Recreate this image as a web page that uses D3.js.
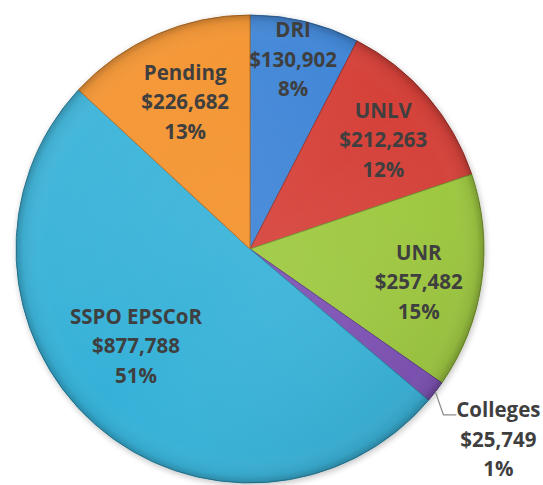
<!DOCTYPE html>
<html>
<head>
<meta charset="utf-8">
<script src="https://cdn.jsdelivr.net/npm/d3@7"></script>
<style>
  body { margin: 0; background: #ffffff; }
  svg { display: block; }
  .lbl { font-family: "Open Sans", "DejaVu Sans", sans-serif; font-weight: 700; font-size: 20.5px; fill: #3f3f3f; }
</style>
</head>
<body>
<svg width="543" height="485"></svg>
<script>
// data, clockwise from 12 o'clock
var names = ["DRI", "UNLV", "UNR", "Colleges", "SSPO EPSCoR", "Pending"];
var amounts = [130902, 212263, 257482, 25749, 877788, 226682];
var colors = ["#3c84d6", "#d53f39", "#9dc83d", "#7b50b4", "#35b1d8", "#f4912b"];

// where each label sits: fraction of radius, angle nudge in degrees
var label_place = {
    "DRI": { r: 0.83, da: -0.8 },
    "UNLV": { r: 0.735, da: 1.5 },
    "UNR": { r: 0.735, da: 3 },
    "SSPO EPSCoR": { r: 0.64, da: 8 },
    "Pending": { r: 0.685, da: -0.3 }
};

var svg = d3.select("svg"),
    cx = 250, cy = 249, radius = 234,
    line_h = 29.5;

var total = d3.sum(amounts);
var fmt_money = d3.format("$,"),
    fmt_pct = d3.format(".0%");

var pie = d3.pie().sort(null).value(function (d) { return d; });
var arcs = pie(amounts);
var arc = d3.arc().innerRadius(0).outerRadius(radius);

var defs = svg.append("defs");

// soft drop shadow under the pie
var flt = defs.append("filter").attr("id", "shadow")
    .attr("x", "-10%").attr("y", "-10%").attr("width", "120%").attr("height", "120%");
flt.append("feGaussianBlur").attr("in", "SourceAlpha").attr("stdDeviation", 3);
flt.append("feOffset").attr("dx", 1).attr("dy", 2).attr("result", "b");
flt.append("feComponentTransfer").append("feFuncA").attr("type", "linear").attr("slope", 0.25);
var fm = flt.append("feMerge");
fm.append("feMergeNode");
fm.append("feMergeNode").attr("in", "SourceGraphic");

// light from top-left
var lg = defs.append("linearGradient").attr("id", "light")
    .attr("x1", "0%").attr("y1", "0%").attr("x2", "100%").attr("y2", "100%");
lg.append("stop").attr("offset", "0%").attr("stop-color", "#fff").attr("stop-opacity", 0.12);
lg.append("stop").attr("offset", "50%").attr("stop-color", "#fff").attr("stop-opacity", 0);
lg.append("stop").attr("offset", "100%").attr("stop-color", "#000").attr("stop-opacity", 0.12);

// rim darkening
var rg = defs.append("radialGradient").attr("id", "rim");
rg.append("stop").attr("offset", "0%").attr("stop-color", "#fff").attr("stop-opacity", 0.08);
rg.append("stop").attr("offset", "88%").attr("stop-color", "#fff").attr("stop-opacity", 0);
rg.append("stop").attr("offset", "97%").attr("stop-color", "#000").attr("stop-opacity", 0.06);
rg.append("stop").attr("offset", "100%").attr("stop-color", "#000").attr("stop-opacity", 0.22);

var g = svg.append("g").attr("transform", "translate(" + cx + "," + cy + ")");

g.append("g").attr("filter", "url(#shadow)")
    .selectAll("path")
    .data(arcs)
    .enter().append("path")
    .attr("d", arc)
    .attr("fill", function (d, i) { return colors[i]; })
    .attr("stroke", function (d, i) { return d3.color(colors[i]).darker(0.9); })
    .attr("stroke-width", 1)
    .attr("stroke-linejoin", "round");

g.append("circle").attr("r", radius).attr("fill", "url(#light)").attr("pointer-events", "none");
g.append("circle").attr("r", radius).attr("fill", "url(#rim)").attr("pointer-events", "none");

function polar(angle, r) {
    return [r * Math.sin(angle), -r * Math.cos(angle)];
}

arcs.forEach(function (d, i) {
    var name = names[i];
    var lines = [name, fmt_money(amounts[i]), fmt_pct(amounts[i] / total)];
    var mid = (d.startAngle + d.endAngle) / 2;
    var x, y;

    if (label_place[name]) {
        var p = polar(mid + label_place[name].da * Math.PI / 180, label_place[name].r * radius);
        x = p[0];
        y = p[1] + 7;
    } else {
        // small slice: label outside with elbow leader
        var edge = polar(mid, radius);
        var elbow = [edge[0] + 8, edge[1] + 23];
        g.append("polyline")
            .attr("points", [edge, elbow, [elbow[0] + 13, elbow[1]]].map(function (q) { return q.join(","); }).join(" "))
            .attr("fill", "none")
            .attr("stroke", "#8c8c8c")
            .attr("stroke-width", 1.2);
        x = elbow[0] + 55;
        y = elbow[1] + 32;
    }

    var t = g.append("text").attr("class", "lbl").attr("text-anchor", "middle");
    lines.forEach(function (s, k) {
        t.append("tspan")
            .attr("x", x)
            .attr("y", y + (k - 1) * line_h)
            .text(s);
    });
});
</script>
</body>
</html>
